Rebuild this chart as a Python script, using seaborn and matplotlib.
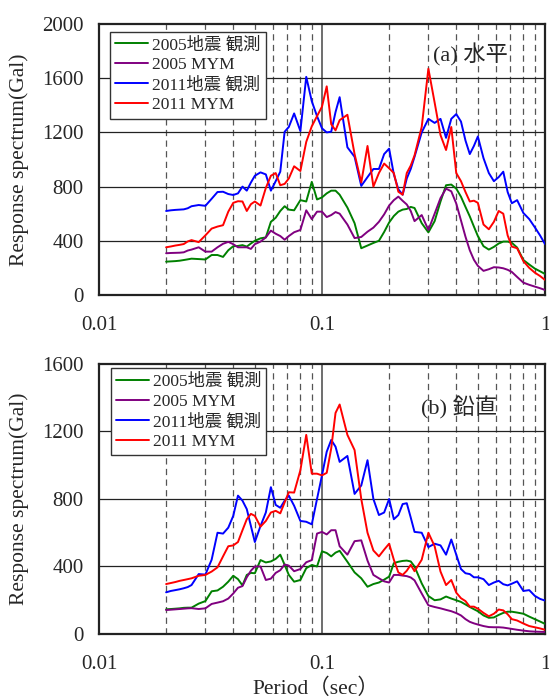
import pandas as pd
import matplotlib
matplotlib.use('Agg')
import matplotlib.pyplot as plt
from matplotlib.lines import Line2D
import seaborn as sns

# periods (sec)
periods = [0.020, 0.021, 0.022, 0.023, 0.024, 0.025, 0.026, 0.028, 0.030, 0.032,
           0.034, 0.036, 0.038, 0.040, 0.042, 0.044, 0.046, 0.048, 0.050, 0.053,
           0.056, 0.059, 0.062, 0.065, 0.068, 0.071, 0.075, 0.080, 0.085, 0.090,
           0.095, 0.100, 0.105, 0.110, 0.115, 0.120, 0.130, 0.140, 0.150, 0.160,
           0.170, 0.180, 0.190, 0.200, 0.210, 0.220, 0.230, 0.240, 0.250, 0.260,
           0.280, 0.300, 0.320, 0.340, 0.360, 0.380, 0.400, 0.420, 0.440, 0.460,
           0.480, 0.500, 0.530, 0.560, 0.590, 0.620, 0.650, 0.680, 0.710, 0.750,
           0.800, 0.850, 0.900, 0.950, 1.000]

# (a) horizontal
h_obs_2005 = [246, 248, 250, 253, 258, 263, 268, 265, 262, 295,
              295, 281, 330, 360, 362, 368, 357, 380, 400, 418,
              425, 540, 570, 620, 655, 630, 625, 700, 690, 835,
              705, 720, 750, 770, 770, 740, 645, 530, 345, 365,
              384, 400, 465, 535, 583, 615, 630, 635, 650, 642,
              530, 462, 545, 690, 810, 815, 785, 725, 650, 580,
              505, 435, 360, 335, 355, 380, 394, 394, 385, 350,
              258, 225, 195, 175, 155]
h_mym_2005 = [308, 310, 311, 312, 315, 328, 335, 352, 320, 320,
              352, 378, 392, 375, 352, 352, 352, 340, 375, 394,
              425, 475, 452, 435, 408, 435, 463, 480, 625, 560,
              615, 615, 575, 590, 612, 600, 520, 420, 428, 467,
              497, 540, 595, 660, 700, 726, 695, 668, 620, 545,
              590, 480, 600, 715, 785, 765, 675, 550, 430, 330,
              260, 215, 178, 190, 205, 203, 197, 186, 170, 133,
              91, 75, 62, 50, 37]
h_obs_2011 = [620, 625, 628, 630, 632, 640, 655, 664, 658, 710,
              760, 762, 745, 738, 750, 800, 770, 830, 880, 905,
              890, 770, 840, 910, 1205, 1240, 1340, 1210, 1610, 1430,
              1320, 1230, 1200, 1205, 1350, 1460, 1090, 1020, 805, 870,
              930, 930, 1040, 1080, 890, 780, 740, 860, 930, 1020,
              1200, 1300, 1270, 1300, 1160, 1300, 1335, 1280, 1140, 1040,
              1100, 1170, 1010, 900, 840, 870, 910, 760, 677, 700,
              605, 560, 500, 440, 376]
h_mym_2011 = [352, 358, 365, 370, 376, 395, 405, 390, 440, 490,
              505, 515, 615, 680, 692, 690, 620, 670, 690, 660,
              790, 880, 900, 810, 820, 860, 950, 915, 1130, 1245,
              1320, 1390, 1540, 1260, 1215, 1290, 1330, 1040, 830, 1100,
              800, 900, 970, 935, 900, 762, 740, 900, 955, 1030,
              1240, 1670, 1420, 1180, 1070, 1240, 900, 840, 760, 690,
              696, 680, 520, 485, 540, 620, 600, 440, 357, 345,
              250, 200, 165, 140, 111]

# (b) vertical
v_obs_2005 = [146, 148, 150, 152, 155, 156, 156, 180, 195, 253,
              258, 280, 310, 345, 325, 288, 350, 362, 360, 438,
              424, 430, 445, 470, 410, 350, 310, 320, 390, 409,
              400, 490, 480, 460, 482, 493, 428, 365, 330, 280,
              296, 305, 322, 340, 420, 428, 433, 435, 430, 400,
              300, 225, 200, 205, 222, 210, 200, 190, 175, 160,
              147, 135, 110, 96, 98, 113, 125, 132, 132, 127,
              120, 103, 88, 74, 60]
v_mym_2005 = [142, 144, 146, 148, 150, 152, 153, 148, 152, 178,
              186, 194, 210, 240, 274, 284, 336, 375, 400, 400,
              320, 328, 362, 378, 412, 405, 372, 385, 425, 438,
              595, 605, 590, 615, 615, 520, 470, 550, 555, 435,
              350, 330, 312, 305, 350, 350, 346, 343, 335, 318,
              240, 170, 160, 152, 143, 135, 124, 110, 88, 72,
              63, 56, 47, 41, 40, 40, 38, 34, 30, 25,
              20, 16, 14, 13, 12]
v_obs_2011 = [247, 255, 260, 265, 271, 278, 290, 355, 352, 440,
              600, 595, 630, 700, 820, 790, 740, 640, 545, 640,
              720, 870, 765, 748, 790, 820, 760, 670, 665, 650,
              800, 940, 1080, 1150, 1110, 1020, 1055, 830, 880, 1030,
              800, 705, 720, 800, 680, 705, 770, 775, 690, 605,
              600, 515, 535, 525, 470, 560, 470, 385, 360, 355,
              336, 336, 325, 290, 305, 315, 295, 288, 298, 312,
              255, 260, 226, 208, 198]
v_mym_2011 = [296, 302, 308, 315, 320, 325, 330, 345, 350, 370,
              395, 460, 520, 525, 545, 615, 680, 712, 700, 636,
              670, 720, 730, 715, 780, 840, 838, 970, 1180, 950,
              950, 940, 955, 1100, 1310, 1360, 1180, 1090, 800, 600,
              495, 460, 500, 535, 440, 365, 350, 375, 410, 372,
              440, 600, 520, 370, 290, 320, 245, 212, 195, 162,
              162, 150, 125, 105, 120, 145, 140, 117, 88, 80,
              62, 47, 40, 33, 25]

series_names = ['2005地震 観測', '2005 MYM', '2011地震 観測', '2011 MYM']
colors = ['#008000', '#800080', '#0000ff', '#ff0000']

sns.set_theme(style='white')
plt.rcParams['font.family'] = ['Liberation Serif', 'Noto Sans CJK JP']


def make_frame(cols):
    frames = []
    for name, vals in zip(series_names, cols):
        frames.append(pd.DataFrame({'period': periods, 'value': vals, 'series': name}))
    return pd.concat(frames, ignore_index=True)


def draw(ax, df, ymax, tag, tag_xy, leg_anchor):
    dashed = [0.02, 0.03, 0.04, 0.05, 0.06, 0.07, 0.08, 0.09,
              0.2, 0.3, 0.4, 0.5, 0.6, 0.7, 0.8, 0.9]
    for p in dashed:
        ax.axvline(p, color='#555555', lw=0.9, ls=(0, (5, 3.5)), zorder=1)
    ax.axvline(0.1, color='#555555', lw=1.2, zorder=1)
    for y in range(400, ymax, 400):
        ax.axhline(y, color='#222222', lw=0.9, zorder=1)

    sns.lineplot(data=df, x='period', y='value', hue='series',
                 hue_order=series_names, palette=colors, ax=ax,
                 lw=1.4, estimator=None, sort=False, legend=False, zorder=3)
    ax.set_xscale('log')
    ax.set_xlim(0.01, 1)
    ax.set_ylim(0, ymax)
    ax.set_xticks([0.01, 0.1, 1])
    ax.set_xticklabels(['0.01', '0.1', '1'])
    ax.minorticks_off()
    ax.set_yticks(range(0, ymax + 1, 400))
    ax.tick_params(axis='x', length=0, pad=15, labelsize=15)
    ax.tick_params(axis='y', length=0, pad=11, labelsize=15)
    ax.set_xlabel('')
    ax.set_ylabel('Response spectrum(Gal)', fontsize=15.5)
    ax.yaxis.set_label_coords(-0.158, 0.5)
    for s in ax.spines.values():
        s.set_color('#222222')
        s.set_linewidth(1.6)

    handles = [Line2D([], [], color=c, lw=1.4) for c in colors]
    ax.legend(handles, series_names, loc='upper left', bbox_to_anchor=leg_anchor,
              borderaxespad=0, fontsize=12.5, handlelength=1.9, handletextpad=0.2,
              labelspacing=0.22, borderpad=0.3, fancybox=False, framealpha=1,
              edgecolor='#333333')
    ax.text(tag_xy[0], tag_xy[1], tag, transform=ax.transAxes, fontsize=16,
            ha='left', va='center')


fig = plt.figure(figsize=(5.49, 7.0), dpi=100)
ax1 = fig.add_axes([0.1803, 0.5786, 0.8124, 0.3871])
ax2 = fig.add_axes([0.1803, 0.0943, 0.8124, 0.3857])

draw(ax1, make_frame([h_obs_2005, h_mym_2005, h_obs_2011, h_mym_2011]),
     2000, '(a) 水平', (0.748, 0.886), (0.025, 0.972))
draw(ax2, make_frame([v_obs_2005, v_mym_2005, v_obs_2011, v_mym_2011]),
     1600, '(b) 鉛直', (0.721, 0.837), (0.027, 0.984))

fig.text(0.575, 0.016, 'Period（sec）', ha='center', va='center', fontsize=15.5)

fig.savefig('out.png', dpi=100)
